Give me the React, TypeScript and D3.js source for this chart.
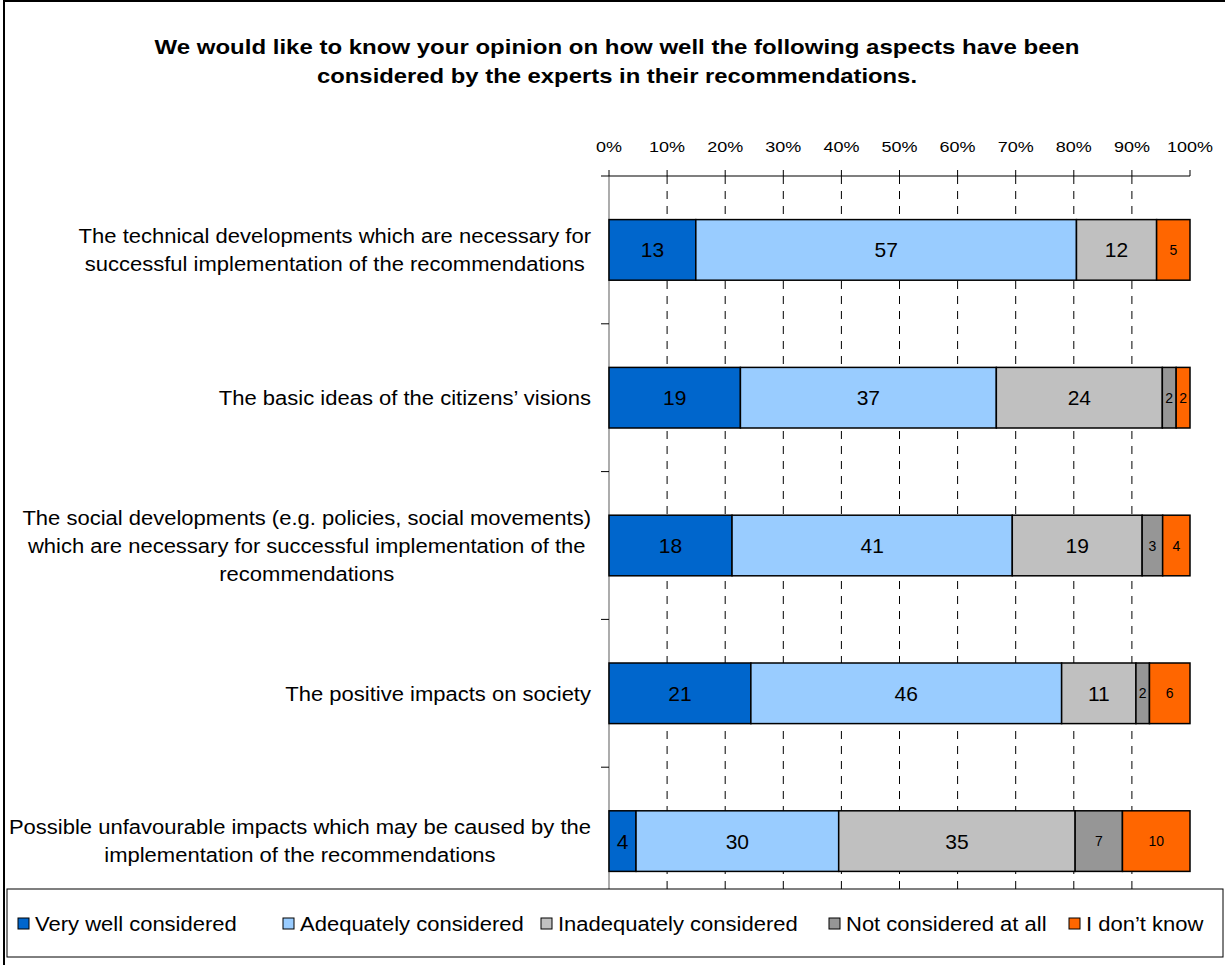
import React, { useEffect, useRef } from "react";
import * as d3 from "d3";

const titleLines = [
  "We would like to know your opinion on how well the following aspects have been",
  "considered by the experts in their recommendations.",
];

const categories: string[][] = [
  ["The technical developments which are necessary for", "successful implementation of the recommendations"],
  ["The basic ideas of the citizens\u2019 visions"],
  [
    "The social developments (e.g. policies, social movements)",
    "which are necessary for successful implementation of the",
    "recommendations",
  ],
  ["The positive impacts on society"],
  ["Possible unfavourable impacts which may be caused by the", "implementation of the recommendations"],
];

const seriesNames = [
  "Very well considered",
  "Adequately considered",
  "Inadequately considered",
  "Not considered at all",
  "I don\u2019t know",
];
const veryWell = [13, 19, 18, 21, 4];
const adequately = [57, 37, 41, 46, 30];
const inadequately = [12, 24, 19, 11, 35];
const notAtAll = [0, 2, 3, 2, 7];
const dontKnow = [5, 2, 4, 6, 10];
const seriesColors = ["#0066CC", "#99CCFF", "#C0C0C0", "#969696", "#FF6600"];
const xTicks = [0, 10, 20, 30, 40, 50, 60, 70, 80, 90, 100];

const FONT = "'Liberation Sans', Arial, sans-serif";
const STRETCH = 1.1;

export default function App() {
  const ref = useRef<SVGSVGElement | null>(null);

  useEffect(() => {
    const svg = d3.select(ref.current!);
    svg.selectAll("*").remove();
    const W = 1225, H = 965;
    const x0 = 609, x1 = 1190, yTop = 176, yBot = 915;

    const stretch = (t: d3.Selection<SVGTextElement, any, any, any>, f = STRETCH) => {
      const w = (t.node() as SVGTextElement).getComputedTextLength();
      t.attr("textLength", w * f).attr("lengthAdjust", "spacingAndGlyphs");
      return w * f;
    };

    // outer frame
    svg.append("rect").attr("x", 4).attr("y", 1).attr("width", W + 10).attr("height", H + 10)
      .attr("fill", "#fff").attr("stroke", "#000").attr("stroke-width", 2);

    // title
    const titleW = [925, 600];
    svg.append("g").selectAll("text").data(titleLines).join("text")
      .attr("x", 617).attr("y", (_, i) => 54 + i * 29)
      .attr("text-anchor", "middle").attr("font-family", FONT).attr("font-weight", "bold")
      .attr("font-size", 21).attr("fill", "#000")
      .attr("textLength", (_, i) => titleW[i]).attr("lengthAdjust", "spacingAndGlyphs")
      .text(d => d);

    const series = [veryWell, adequately, inadequately, notAtAll, dontKnow];
    const rows = categories.map((_, i) => {
      const vals = series.map(s => s[i]);
      const total = d3.sum(vals);
      let acc = 0;
      return vals.map((v, k) => {
        const start = acc / total;
        acc += v;
        return { k, v, start, end: acc / total };
      });
    });

    const x = d3.scaleLinear().domain([0, 1]).range([x0, x1]);
    const y = d3.scaleBand<number>().domain(d3.range(categories.length)).range([yTop, yBot]).paddingInner(0.59).paddingOuter(0.295);

    // gridlines
    svg.append("g").selectAll("line").data(xTicks.filter(t => t > 0 && t < 100)).join("line")
      .attr("x1", t => x(t / 100)).attr("x2", t => x(t / 100))
      .attr("y1", yTop).attr("y2", 889)
      .attr("stroke", "#000").attr("stroke-width", 1).attr("stroke-dasharray", "8,7");

    // vertical category axis
    svg.append("line").attr("x1", x0).attr("x2", x0).attr("y1", yTop).attr("y2", yBot)
      .attr("stroke", "#808080").attr("stroke-width", 1.3);
    const bounds = d3.range(categories.length + 1).map(i => yTop + (i * (yBot - yTop)) / categories.length);
    svg.append("g").selectAll("line").data(bounds.slice(0, -1)).join("line")
      .attr("x1", x0 - 8).attr("x2", x0).attr("y1", d => d).attr("y2", d => d)
      .attr("stroke", "#000").attr("stroke-width", 1);

    // top axis
    svg.append("line").attr("x1", x0).attr("x2", x1).attr("y1", yTop).attr("y2", yTop)
      .attr("stroke", "#000").attr("stroke-width", 1.2);
    svg.append("g").selectAll("line").data(xTicks).join("line")
      .attr("x1", t => x(t / 100)).attr("x2", t => x(t / 100))
      .attr("y1", yTop - 6).attr("y2", yTop).attr("stroke", "#000").attr("stroke-width", 1);
    svg.append("g").selectAll("text").data(xTicks).join("text")
      .attr("x", t => x(t / 100)).attr("y", 152).attr("text-anchor", "middle")
      .attr("font-family", FONT).attr("font-size", 15).attr("fill", "#000")
      .attr("textLength", t => (t === 0 ? 26 : t === 100 ? 46 : 36)).attr("lengthAdjust", "spacingAndGlyphs")
      .text(t => `${t}%`);

    // bars
    rows.forEach((segs, i) => {
      const g = svg.append("g");
      const by = y(i)!;
      const bh = y.bandwidth();
      segs.filter(s => s.v > 0).forEach(s => {
        g.append("rect").attr("x", x(s.start)).attr("y", by).attr("width", x(s.end) - x(s.start)).attr("height", bh)
          .attr("fill", seriesColors[s.k]).attr("stroke", "#000").attr("stroke-width", 1.5);
        const small = s.k >= 3;
        g.append("text").attr("x", (x(s.start) + x(s.end)) / 2).attr("y", by + bh / 2)
          .attr("dy", "0.36em").attr("text-anchor", "middle").attr("font-family", FONT)
          .attr("font-size", small ? 14 : 21).attr("fill", "#000").text(s.v);
      });
    });

    // category labels (centered block, right-aligned at 590)
    const rightEdge = 591;
    const lineH = 28;
    categories.forEach((lines, i) => {
      const cy = y(i)! + y.bandwidth() / 2;
      const g = svg.append("g");
      const texts = lines.map((l, j) =>
        g.append("text").attr("y", cy + (j - (lines.length - 1) / 2) * lineH).attr("dy", "0.36em")
          .attr("text-anchor", "middle").attr("font-family", FONT).attr("font-size", 20)
          .attr("fill", "#000").text(l)
      );
      const widths = texts.map(t => stretch(t));
      const maxW = d3.max(widths) || 0;
      texts.forEach(t => t.attr("x", rightEdge - maxW / 2));
    });

    // legend
    svg.append("rect").attr("x", 7).attr("y", 889).attr("width", 1216).attr("height", 68)
      .attr("fill", "#fff").attr("stroke", "#000").attr("stroke-width", 1);
    const legendX = [18, 283, 541, 829, 1069];
    const lg = svg.append("g");
    seriesNames.forEach((n, k) => {
      lg.append("rect").attr("x", legendX[k]).attr("y", 918).attr("width", 11).attr("height", 11)
        .attr("fill", seriesColors[k]).attr("stroke", "#000").attr("stroke-width", 1);
      const t = lg.append("text").attr("x", legendX[k] + 17).attr("y", 924).attr("dy", "0.36em")
        .attr("font-family", FONT).attr("font-size", 20).attr("fill", "#000").text(n);
      stretch(t);
    });
  }, []);

  return (
    <svg ref={ref} width={1225} height={965}
      style={{ position: "absolute", left: 0, top: 0, background: "#fff" }} />
  );
}
